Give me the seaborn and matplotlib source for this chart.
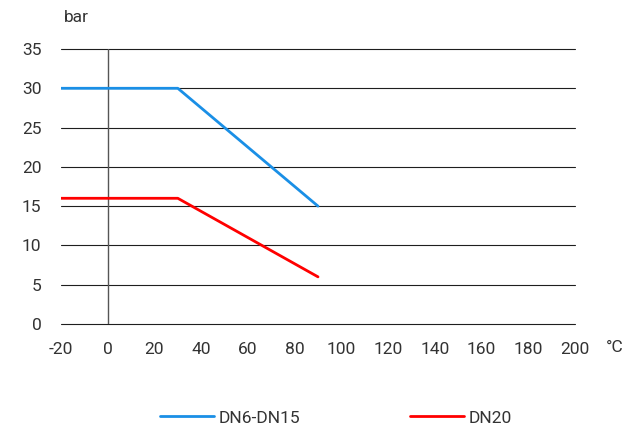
import matplotlib
matplotlib.use("Agg")
import matplotlib.pyplot as plt
from matplotlib import font_manager
import seaborn as sns
import pandas as pd

# data
temps_dn6_15 = [-20, 30, 90]
bar_dn6_15 = [30, 30, 15]
temps_dn20 = [-20, 30, 90]
bar_dn20 = [16, 16, 6]
series_names = ["DN6-DN15", "DN20"]
x_ticks = [-20, 0, 20, 40, 60, 80, 100, 120, 140, 160, 180, 200]
y_ticks = [0, 5, 10, 15, 20, 25, 30, 35]

df = pd.DataFrame({
    "temp": temps_dn6_15 + temps_dn20,
    "bar": bar_dn6_15 + bar_dn20,
    "series": [series_names[0]] * len(temps_dn6_15) + [series_names[1]] * len(temps_dn20),
})

sns.set_theme(style="white")
names = {f.name for f in font_manager.fontManager.ttflist}
fam = "Liberation Sans Narrow" if "Liberation Sans Narrow" in names else "Roboto"
plt.rcParams["font.family"] = [fam, "DejaVu Sans"]

fig = plt.figure(figsize=(6.24, 4.32), dpi=100)
ax = fig.add_axes([61 / 624, 1 - 324 / 432, (575 - 61) / 624, (324 - 49) / 432])

ax.set_xlim(-20, 200)
ax.set_ylim(0, 35)
for y in y_ticks:
    ax.axhline(y, color="#1e1e1e", lw=0.8, zorder=1, clip_on=False)
ax.axvline(0, color="#555555", lw=1.0, zorder=1)

sns.lineplot(data=df, x="temp", y="bar", hue="series",
             palette={series_names[0]: "#1a8fe6", series_names[1]: "#ff0000"},
             lw=2.0, ax=ax, zorder=3, legend=False)

for s in ax.spines.values():
    s.set_visible(False)
ax.set_xticks(x_ticks)
ax.set_yticks(y_ticks)
ax.set_xticklabels([str(v) for v in x_ticks])
ax.set_yticklabels([str(v) for v in y_ticks])
ax.tick_params(axis="both", length=0, labelsize=12.5, colors="#333333")
ax.tick_params(axis="x", pad=13)
ax.tick_params(axis="y", pad=14)
ax.set_xlabel("")
ax.set_ylabel("")

fig.text(76 / 624, 1 - 18 / 432, "bar", ha="center", va="center", fontsize=12.5, color="#333333")
fig.text(615 / 624, 1 - 348 / 432, "°C", ha="center", va="center", fontsize=12.5, color="#333333")

from matplotlib.lines import Line2D
handles = [Line2D([], [], color="#1a8fe6", lw=2.0), Line2D([], [], color="#ff0000", lw=2.0)]
fig.legend(handles, series_names, loc="center left", bbox_to_anchor=(160 / 624, 1 - 418 / 432),
           ncol=2, frameon=False, fontsize=12.5, handlelength=3.1, handletextpad=0.3,
           columnspacing=6.3, borderpad=0, borderaxespad=0, labelcolor="#333333")

fig.savefig("out.png", dpi=100)
